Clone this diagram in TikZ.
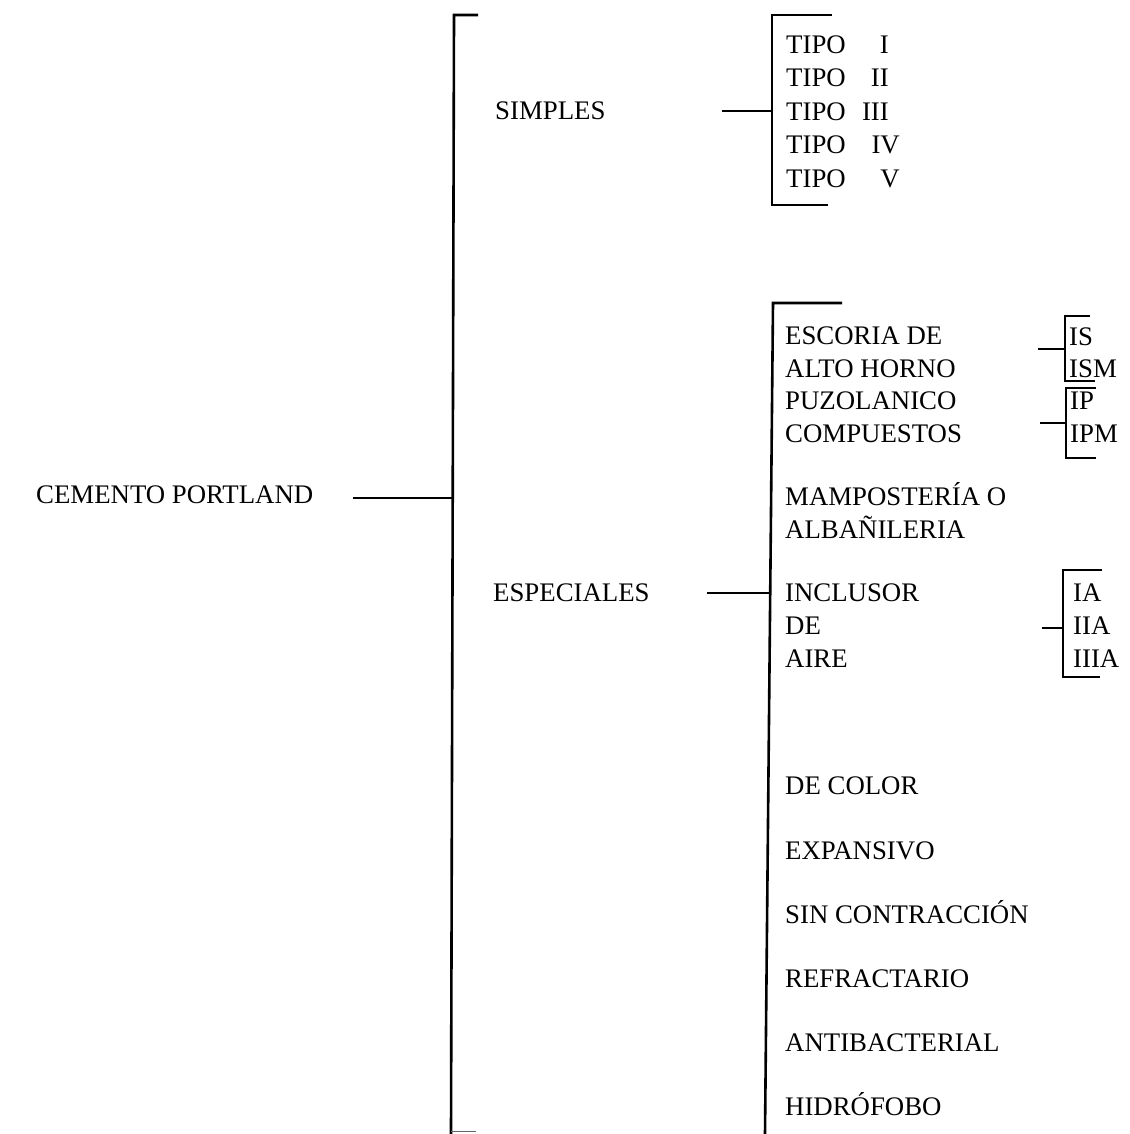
\documentclass[tikz,border=0pt]{standalone}
\usepackage{fontspec}
\setmainfont{Liberation Serif}
\begin{document}
\begin{tikzpicture}[x=1pt,y=-1pt,
  every node/.style={font=\fontsize{26.8}{30}\selectfont},
  lbl/.style={anchor=base west, inner sep=0pt, yshift=-8.9pt},
  rlbl/.style={anchor=base east, inner sep=0pt, yshift=-8.9pt},
  bigline/.style={line width=2.6pt},
  smallline/.style={line width=2pt}]
\fill[white] (0,0) rectangle (1129,1134);
\useasboundingbox (0,0) rectangle (1129,1134);

% root
\node[lbl] (cp) at (36,495) {CEMENTO PORTLAND};
\coordinate (cpL) at (353,498);
\coordinate (mJ) at (453,498);
\draw[bigline] (cpL) -- (mJ);

% main bracket
\coordinate (mTt) at (478,15);
\coordinate (mT) at (454,15);
\coordinate (mB) at (451,1134);
\draw[bigline] (mTt) -- (mT) -- (mB);
\coordinate (mBt) at (476,1131);
\draw[line width=1pt, black!60] (451,1131) -- (mBt);

% simples
\node[lbl] (simples) at (495,111) {SIMPLES};
\coordinate (sL) at (722,111);
\coordinate (sJ) at (772,111);
\draw[bigline] (sL) -- (sJ);
\draw[smallline] (832,15) -- (772,15) -- (772,205) -- (828,205);
\foreach \yy/\nm/\rn/\xr in {45/t1/I/889, 78/t2/II/889, 112/t3/III/889, 145/t4/IV/900, 179/t5/V/900}{
  \node[lbl] (\nm) at (786,\yy) {TIPO};
  \node[rlbl] (\nm r) at (\xr,\yy) {\rn};
}

% especiales
\node[lbl] (esp) at (493,593) {ESPECIALES};
\coordinate (eL) at (707,593);
\coordinate (eJ) at (770,593);
\draw[bigline] (eL) -- (eJ);
\draw[bigline] (842,303) -- (773,303) -- (765,1134);

\node[lbl] (e1) at (785,336) {ESCORIA DE};
\node[lbl] (e2) at (785,369) {ALTO HORNO};
\node[lbl] (e3) at (785,401) {PUZOLANICO};
\node[lbl] (e4) at (785,434) {COMPUESTOS};
\node[lbl] (e5) at (785,497) {MAMPOSTERÍA O};
\node[lbl] (e6) at (785,530) {ALBAÑILERIA};
\node[lbl] (e7) at (785,593) {INCLUSOR};
\node[lbl] (e8) at (785,626) {DE};
\node[lbl] (e9) at (785,659) {AIRE};
\node[lbl] (e10) at (785,786) {DE COLOR};
\node[lbl] (e11) at (785,851) {EXPANSIVO};
\node[lbl] (e12) at (785,915) {SIN CONTRACCIÓN};
\node[lbl] (e13) at (785,979) {REFRACTARIO};
\node[lbl] (e14) at (785,1043) {ANTIBACTERIAL};
\node[lbl] (e15) at (785,1107) {HIDRÓFOBO};

% IS / ISM
\coordinate (isL) at (1038,349);
\coordinate (isJ) at (1065,349);
\draw[smallline] (isL) -- (isJ);
\draw[smallline] (1090,316) -- (1065,316) -- (1065,381) -- (1095,381);
\node[lbl] (is) at (1069,337) {IS};
\node[lbl] (ism) at (1069,369) {ISM};

% IP / IPM
\coordinate (ipL) at (1040,423);
\coordinate (ipJ) at (1066,423);
\draw[smallline] (ipL) -- (ipJ);
\draw[smallline] (1096,388) -- (1066,388) -- (1066,458) -- (1096,458);
\node[lbl] (ip) at (1070,401) {IP};
\node[lbl] (ipm) at (1070,434) {IPM};

% IA / IIA / IIIA
\coordinate (iaL) at (1042,628);
\coordinate (iaJ) at (1063,628);
\draw[smallline] (iaL) -- (iaJ);
\draw[smallline] (1102,570) -- (1063,570) -- (1063,677) -- (1100,677);
\node[lbl] (ia) at (1073,593) {IA};
\node[lbl] (iia) at (1073,626) {IIA};
\node[lbl] (iiia) at (1073,659) {IIIA};
\end{tikzpicture}
\end{document}
